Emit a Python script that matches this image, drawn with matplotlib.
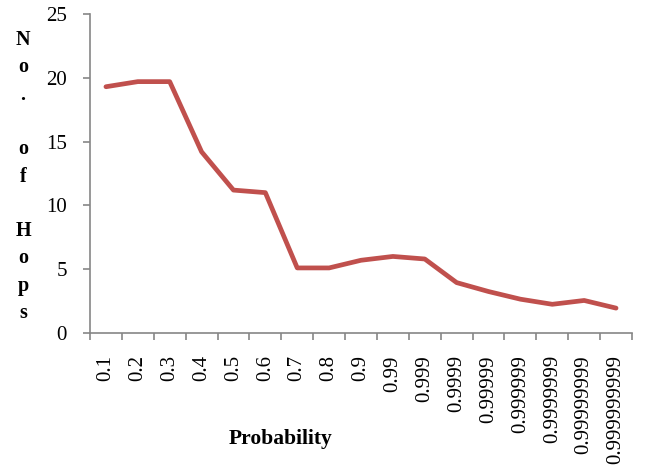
import matplotlib
matplotlib.use("Agg")
import matplotlib.pyplot as plt

categories = ["0.1", "0.2", "0.3", "0.4", "0.5", "0.6", "0.7", "0.8", "0.9",
              "0.99", "0.999", "0.9999", "0.99999", "0.999999", "0.9999999",
              "0.99999999", "0.999999999"]
hops = [19.3, 19.7, 19.7, 14.2, 11.2, 11.0, 5.1, 5.1, 5.7,
        6.0, 5.8, 3.95, 3.25, 2.65, 2.25, 2.55, 1.95]
yticks = [0, 5, 10, 15, 20, 25]
ylabel_text = "No. of Hops"
xlabel_text = "Probability"

plt.rcParams['font.family'] = ['Liberation Serif', 'DejaVu Serif']

W, H = 645, 470
fig = plt.figure(figsize=(W/100, H/100), dpi=100)
ax = fig.add_axes([90/W, 1-333/H, (632-90)/W, (333-14)/H])

x = list(range(len(categories)))
ax.plot(x, hops, color='#C0504D', lw=3.4, solid_joinstyle='round', solid_capstyle='round')

ax.set_xlim(-0.5, len(categories) - 0.5)
ax.set_ylim(0, 25)
ax.set_yticks(yticks)
ax.set_yticklabels([str(v) for v in yticks], fontsize=15)
ax.set_xticks(x)
ax.set_xticklabels(categories, rotation=90, fontsize=15)
ax.set_xticks([i - 0.5 for i in range(len(categories) + 1)], minor=True)
ax.tick_params(axis='x', which='major', length=0, pad=16)
ax.tick_params(axis='x', which='minor', length=5, color='#868686', width=1.2, direction='out')
ax.tick_params(axis='y', length=5, color='#868686', width=1.2, direction='out', pad=11.5)

for s in ['top', 'right']:
    ax.spines[s].set_visible(False)
for s in ['left', 'bottom']:
    ax.spines[s].set_color('#868686')
    ax.spines[s].set_linewidth(1.2)

# vertical stacked y-label, one character per line
for i, ch in enumerate(ylabel_text):
    if ch.strip():
        fig.text(23/W, 1-(45 + i*27.3)/H, ch, ha='center', va='baseline',
                 fontsize=14.5, fontweight='bold')

fig.text(281/W, 1-439/H, xlabel_text, ha='center', va='center',
         fontsize=15.5, fontweight='bold')

fig.savefig("out.png", dpi=100)
